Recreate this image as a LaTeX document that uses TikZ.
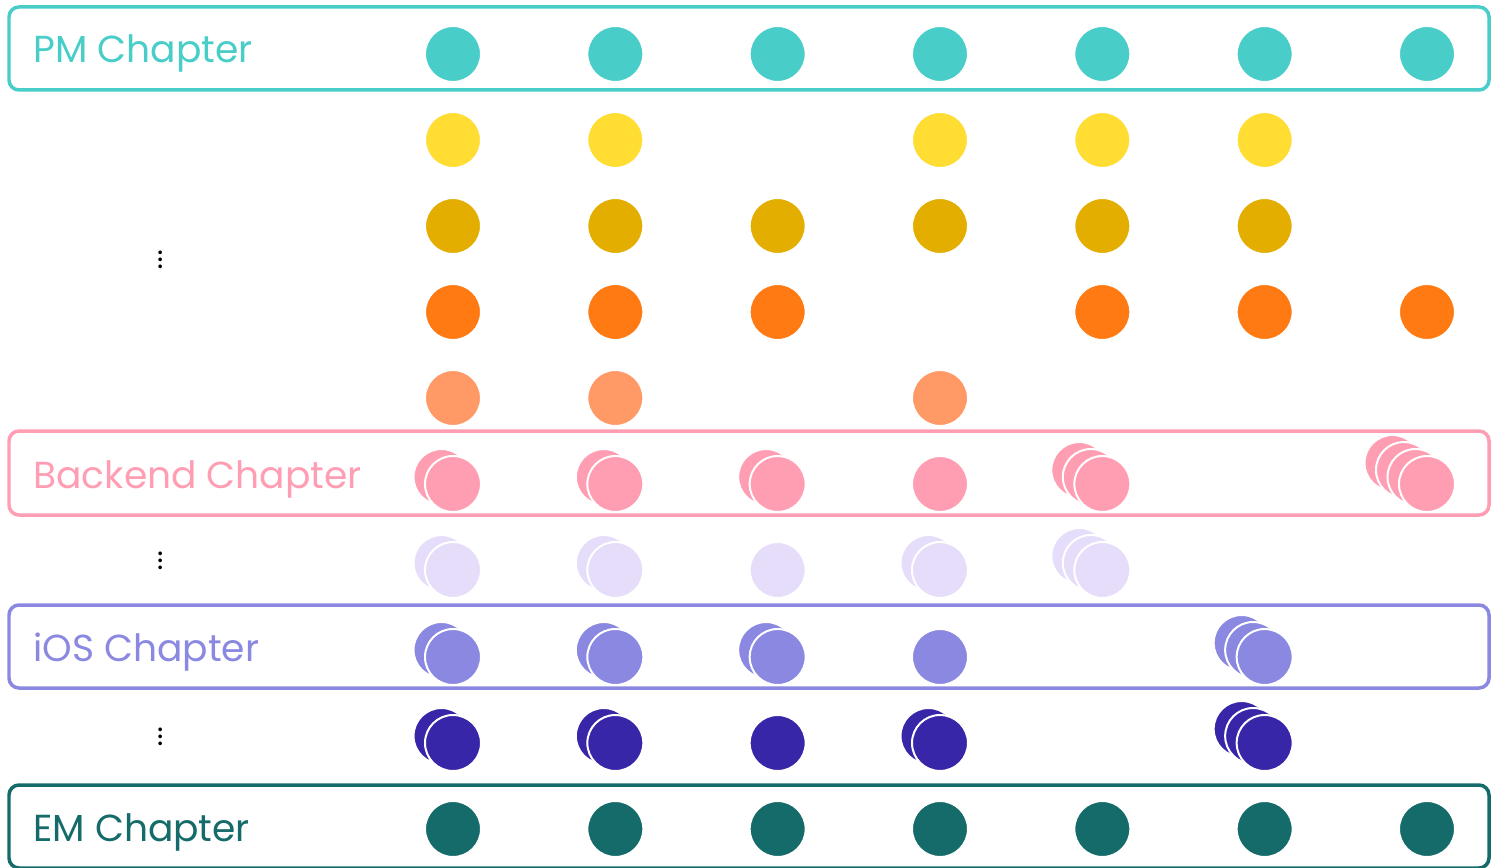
\documentclass[tikz,border=0pt]{standalone}
\usepackage{fontspec}
\setmainfont{Poppins}
\usetikzlibrary{positioning}
\definecolor{cPM}{HTML}{48CDC8}
\definecolor{cYel}{HTML}{FFDD33}
\definecolor{cGold}{HTML}{E3AE00}
\definecolor{cOra}{HTML}{FF7A12}
\definecolor{cSal}{HTML}{FF9966}
\definecolor{cBE}{HTML}{FF9EB3}
\definecolor{cLav}{HTML}{E6DDFA}
\definecolor{cIOS}{HTML}{8A88E0}
\definecolor{cInd}{HTML}{3826A8}
\definecolor{cEM}{HTML}{156B69}
\tikzset{
  chapter/.style={draw=#1,line width=0.07cm,rounded corners=0.2cm},
  chaptag/.style={text=#1,anchor=base west,inner sep=0pt,
    font=\fontsize{21.4}{23}\selectfont},
  member/.style={circle,fill=#1,draw=white,line width=0.04cm,
    minimum size=1.12cm,inner sep=0pt},
  gap/.style={inner sep=0pt,font=\fontsize{17}{17}\selectfont},
}
% colour, x, y, how many, name
\newcommand{\memberstack}[5]{%
  \foreach \k in {#4,...,1}{%
    \node[member=#1] (#5-\k) at ({#2-11.5*(\k-1)},{#3-7*(\k-1)}) {};}}

\begin{document}
\begin{tikzpicture}[x=0.02cm,y=-0.02cm]
  \useasboundingbox (0,0) rectangle (1491,868);

  % chapters
  \draw[chapter=cPM]  (9,7) rectangle (1489,90);
  \draw[chapter=cBE]  (9,431) rectangle (1489,515);
  \draw[chapter=cIOS] (9,605) rectangle (1489,688);
  \draw[chapter=cEM]  (9,785) rectangle (1489,868);
  \node[chaptag=cPM]  (pm)  at (33,63)  {PM Chapter};
  \node[chaptag=cBE]  (be)  at (33,488) {Backend Chapter};
  \node[chaptag=cIOS] (ios) at (33,661) {iOS Chapter};
  \node[chaptag=cEM]  (em)  at (33,841) {EM Chapter};

  \node[gap] (gapA) at (161,255) {$\vdots$};
  \node[gap] (gapB) at (161,556) {$\vdots$};
  \node[gap] (gapC) at (161,732) {$\vdots$};

  % members
  \foreach \c in {1,...,7}
    \memberstack{cPM}{453+162.33*(\c-1)}{54}{1}{pm\c};
  \foreach \c in {1,2,4,5,6}
    \memberstack{cYel}{453+162.33*(\c-1)}{140}{1}{yel\c};
  \foreach \c in {1,...,6}
    \memberstack{cGold}{453+162.33*(\c-1)}{226}{1}{gold\c};
  \foreach \c in {1,2,3,5,6,7}
    \memberstack{cOra}{453+162.33*(\c-1)}{312}{1}{ora\c};
  \foreach \c in {1,2,4}
    \memberstack{cSal}{453+162.33*(\c-1)}{398}{1}{sal\c};
  \foreach \c/\n in {1/2,2/2,3/2,4/1,5/3,7/4}
    \memberstack{cBE}{453+162.33*(\c-1)}{484}{\n}{be\c};
  \foreach \c/\n in {1/2,2/2,3/1,4/2,5/3}
    \memberstack{cLav}{453+162.33*(\c-1)}{570}{\n}{lav\c};
  \foreach \c/\n in {1/2,2/2,3/2,4/1,6/3}
    \memberstack{cIOS}{453+162.33*(\c-1)}{657}{\n}{ios\c};
  \foreach \c/\n in {1/2,2/2,3/1,4/2,6/3}
    \memberstack{cInd}{453+162.33*(\c-1)}{743}{\n}{ind\c};
  \foreach \c in {1,...,7}
    \memberstack{cEM}{453+162.33*(\c-1)}{829}{1}{em\c};
\end{tikzpicture}
\end{document}
